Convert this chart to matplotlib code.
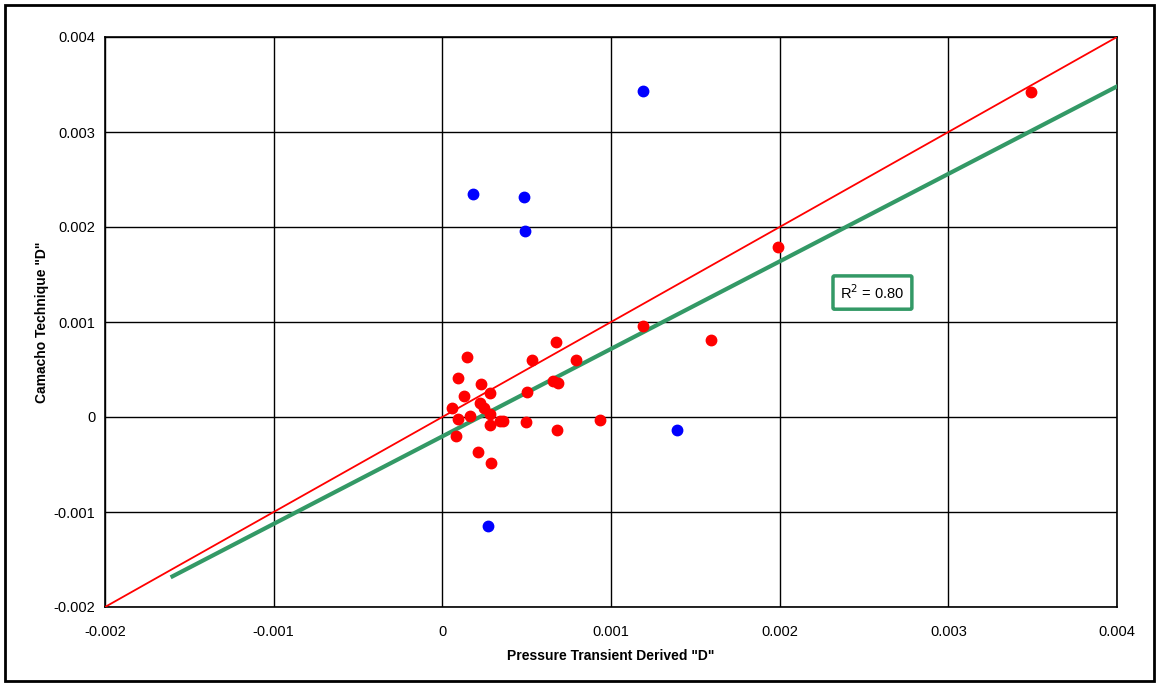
import numpy as np
import matplotlib
matplotlib.use("Agg")
import matplotlib.pyplot as plt
from matplotlib.patches import Rectangle

plt.rcParams['font.family'] = ['Liberation Sans', 'DejaVu Sans']

# wells used in the correlation (red)
red_x = [0.000144, 0.000095, 0.000229, 0.000130, 0.000283, 0.000055, 0.000223,
         0.000249, 0.000280, 0.000091, 0.000164, 0.000283, 0.000344, 0.000358,
         0.000496, 0.000081, 0.000213, 0.000289, 0.000502, 0.000532, 0.000674,
         0.000792, 0.000654, 0.000684, 0.000680, 0.000935, 0.00119, 0.00159,
         0.00199, 0.00349]
red_y = [0.000632, 0.000415, 0.000344, 0.000221, 0.000257, 0.000100, 0.000151,
         0.000100, 0.000030, -0.000017, 0.000010, -0.000084, -0.000042, -0.000040,
         -0.000053, -0.000200, -0.000364, -0.000487, 0.000263, 0.000600, 0.000790,
         0.000600, 0.000379, 0.000362, -0.000140, -0.000030, 0.000955, 0.000807,
         0.00179, 0.00342]

# excluded wells (blue)
blue_x = [0.000184, 0.000486, 0.000492, 0.00119, 0.00139, 0.000273]
blue_y = [0.00235, 0.00232, 0.00196, 0.00343, -0.00014, -0.00115]

# linear trend line
trend_slope = 0.921
trend_icpt = -0.000204
trend_range = [-0.0016, 0.004]
r_squared = 0.80

ticks = [-0.002, -0.001, 0, 0.001, 0.002, 0.003, 0.004]
tick_labels = ['-0.002', '-0.001', '0', '0.001', '0.002', '0.003', '0.004']

fig = plt.figure(figsize=(11.59, 6.85), dpi=100)
ax = fig.add_axes([105 / 1159, 78 / 685, 1012 / 1159, 570 / 685])

# 1:1 line
ax.plot([-0.002, 0.004], [-0.002, 0.004], color='#ff0000', lw=1.3, zorder=3)

tx = np.array(trend_range)
ax.plot(tx, trend_slope * tx + trend_icpt, color='#339966', lw=3, zorder=3)

ax.plot(red_x, red_y, 'o', color='#ff0000', ms=7.5, mec='#ff0000', zorder=4)
ax.plot(blue_x, blue_y, 'o', color='#0000ff', ms=7.5, mec='#0000ff', zorder=4)

ax.set_xlim(-0.002, 0.004)
ax.set_ylim(-0.002, 0.004)
ax.set_xticks(ticks)
ax.set_xticklabels(tick_labels)
ax.set_yticks(ticks)
ax.set_yticklabels(tick_labels)
ax.tick_params(axis='x', length=0, labelsize=10.5, pad=13)
ax.tick_params(axis='y', length=0, labelsize=10.5, pad=7)
ax.grid(True, color='black', lw=1)
ax.set_axisbelow(True)
for s in ax.spines.values():
    s.set_color('black')
    s.set_linewidth(1.2)

ax.set_xlabel('Pressure Transient Derived "D"', fontsize=10, fontweight='bold', labelpad=7)
ax.set_ylabel('Camacho Technique "D"', fontsize=10, fontweight='bold', labelpad=3)

ax.text(0.00255, 0.00131, r'R$^2$ = %.2f' % r_squared, fontsize=10.5, ha='center', va='center',
        bbox=dict(boxstyle='round,pad=0.5,rounding_size=0.1', fc='white', ec='#339966', lw=2.5),
        zorder=5)

# outer frame around the whole chart
fig.patches.append(Rectangle((5 / 1159, 4 / 685), 1149 / 1159, 676 / 685, transform=fig.transFigure,
                             fill=False, ec='black', lw=2))

fig.savefig('out.png', dpi=100)
